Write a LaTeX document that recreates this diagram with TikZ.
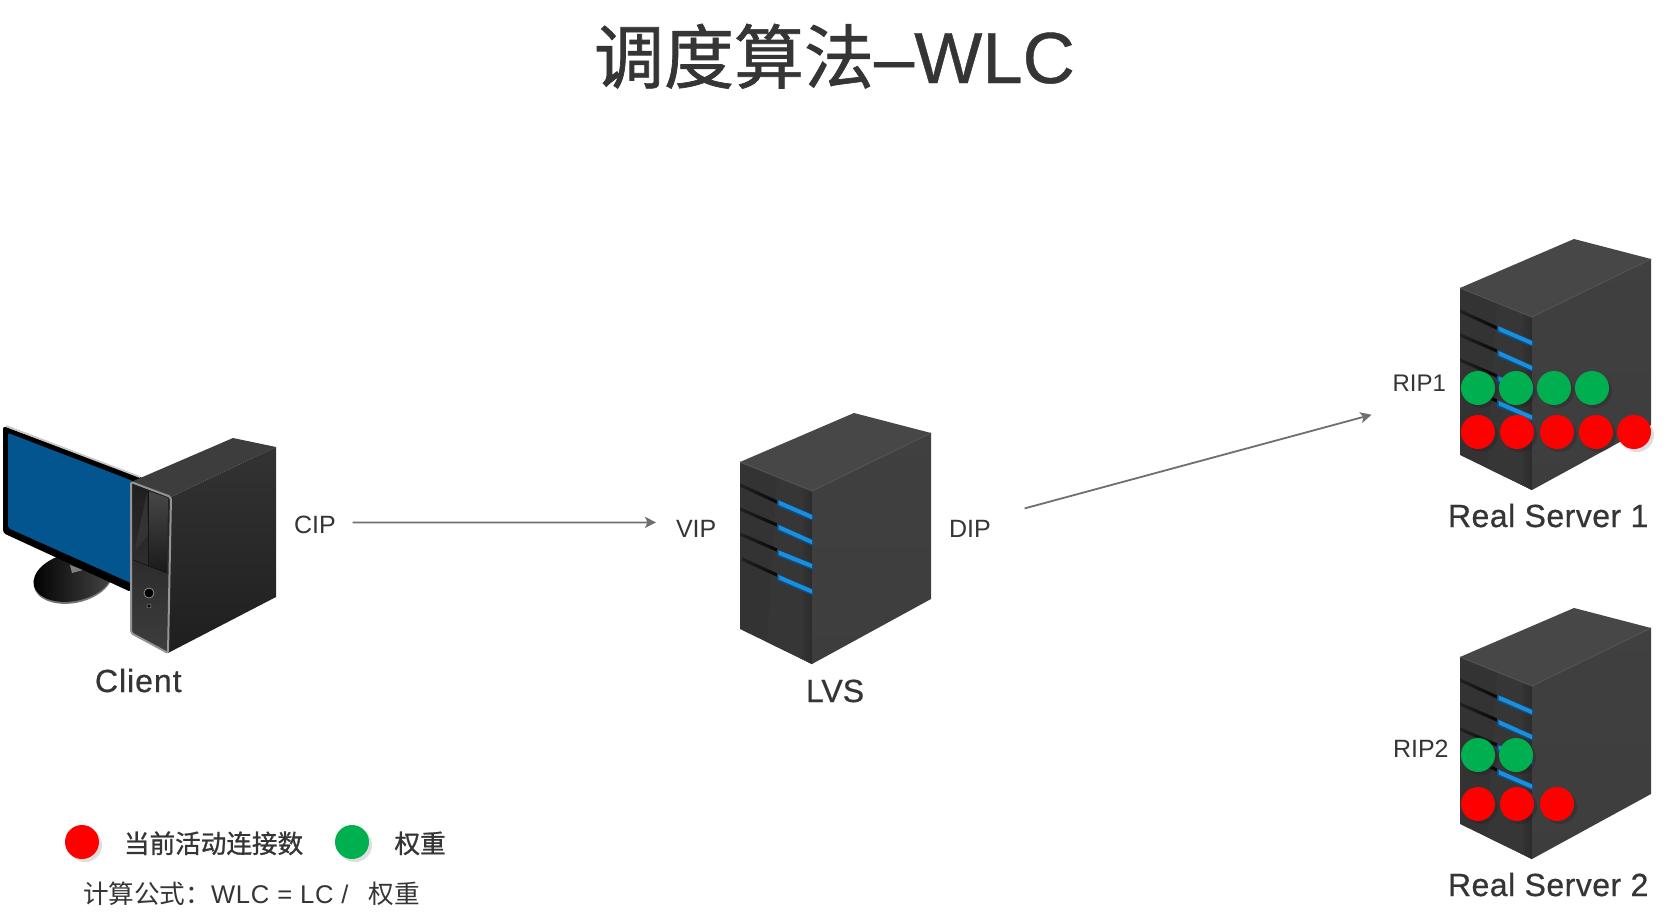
\documentclass[tikz,border=0pt]{standalone}
\usepackage{fontspec}
\setmainfont{Liberation Sans}
\newfontfamily\cjk{Noto Sans CJK SC}
\newfontfamily\cjkm[FakeBold=1]{Noto Sans CJK SC}
\newfontfamily\latm[FakeBold=0.6]{Liberation Sans}
\newfontfamily\latb[LetterSpace=1.5,FakeBold=0.6]{Liberation Sans}
\newfontfamily\latw[LetterSpace=3,FakeBold=0.6]{Liberation Sans}
\newfontfamily\latl[LetterSpace=3]{Liberation Sans}
\usetikzlibrary{arrows.meta}
\definecolor{ink}{HTML}{353535}
\definecolor{flowgrey}{HTML}{6F6F6F}
\definecolor{dotred}{HTML}{FF0000}
\definecolor{dotgreen}{HTML}{00B050}
\definecolor{slotblue}{HTML}{1C8FDB}
\definecolor{slotedge}{HTML}{0B4F8A}
\definecolor{screenblue}{HTML}{03558F}
\newcommand{\fs}[1]{\fontsize{#1}{#1}\selectfont}
\tikzset{
  x=1pt,y=-1pt,
  lab/.style={inner sep=0pt,outer sep=0pt,anchor=base west,text=ink},
  smalllab/.style={lab,font=\fs{25}},
  biglab/.style={lab,font=\fs{32}\latb},
  flow/.style={draw=flowgrey,line width=1.8pt,-{Stealth[length=11pt,width=11pt,inset=2.5pt]}},
  reddot/.pic={\fill[black,opacity=.13] (3,3) circle[radius=17];\fill[dotred] (0,0) circle[radius=17];},
  greendot/.pic={\fill[black,opacity=.13] (3,3) circle[radius=17];\fill[dotgreen] (0,0) circle[radius=17];},
  serverbox/.pic={
    % faces
    \fill[black!80] (0,49) -- (72,78) -- (72,251) -- (0,216) -- cycle;
    \fill[black!79] (37,64) -- (72,78) -- (72,251) -- (27,229) -- cycle;
    \shade[left color=black!79,right color=black!83] (60,74) -- (72,78) -- (72,251) -- (60,245) -- cycle;
    \shade[top color=black!75,bottom color=black!76] (72,78) -- (191,20) -- (191,186) -- (72,251) -- cycle;
    \fill[black!72] (0,49) -- (114,0) -- (191,20) -- (72,78) -- cycle;
    \draw[black!68,line width=1pt,line join=round] (0,49) -- (72,78) -- (191,20);
    % slots
    \foreach \xa/\ya/\yb/\yc/\yd in {0/72/89/89.5/104.5,0/96/112/114/129.5,0/121/137/139.5/153.5,2/146/162/164/179}{
      \shade[left color=black!87,right color=black!97] (\xa,\ya-1.7) -- (37,\yb-1.7) -- (37,\yb+1.7) -- (\xa,\ya+1.7) -- cycle;
      \fill[slotedge] (37,\yc-3) -- (73,\yd-3) -- (73,\yd+3.5) -- (37,\yc+3.5) -- cycle;
      \fill[slotblue] (38.5,\yc-2.2) -- (72,\yd-2.5) -- (72,\yd+1.7) -- (38.5,\yc+2.3) -- cycle;
    }
  },
}
\begin{document}
\begin{tikzpicture}
\useasboundingbox (0,0) rectangle (1666,921);
\fill[white] (0,0) rectangle (1666,921);

% title
\node[lab,font=\fs{70}] (title) at (594,83) {\cjkm 调度算法\fs{72.3}\latm –WLC};

% client: stand
\fill[black!55,rotate around={12:(73,578.5)}] (73,578.5) ellipse[x radius=40,y radius=24.5];
\shade[left color=black,right color=black!72,rotate around={12:(73,577)}] (73,577) ellipse[x radius=40,y radius=24];
\fill[black!50] (70,565) -- (83,570) -- (72,573) -- cycle;
% client: monitor
\fill[black,rounded corners=3pt] (3,426) -- (145,479) -- (131,592) -- (3,533) -- cycle;
\draw[black!22,line width=1.8pt] (6,426) -- (140,477);
\fill[screenblue,rounded corners=2pt] (8,433) -- (133,481) -- (133,584) -- (8,528) -- cycle;
% client: tower
\fill[black!76] (138,479) -- (233,438) -- (276,447) -- (171,497) -- (131,482) -- cycle;
\shade[top color=black!80,middle color=black!70,bottom color=black!88] (171,497) -- (276,447) -- (276,597) -- (168,653) -- cycle;
\shade[top color=black!88,bottom color=black!76] (131,482) -- (171,497) -- (168,653) -- (131,633) -- cycle;
\shade[top color=black!72,bottom color=black!90] (148,491) -- (168,498) -- (167,573) -- (148,566) -- cycle;
\fill[black!80] (134,552) -- (147,493) -- (148,535) -- cycle;
\draw[black!92,line width=.7pt] (148,491) -- (148,566);
\draw[black!92,line width=.7pt] (133,560) -- (167,573);
\draw[black!42,line width=2pt,line join=round,rounded corners=2pt] (131,482) -- (171,497) -- (168,653) -- (131,633) -- cycle;
\fill[black,draw=black!45,line width=.8pt] (149,593) circle[radius=5];
\fill[black,draw=black!45,line width=.5pt] (149,606) circle[radius=2];

% servers
\pic at (740,413) {serverbox};
\pic at (1460,239) {serverbox};
\pic at (1460,608) {serverbox};

% weight and connection dots
\foreach \x in {1478,1516,1554,1592} \pic at (\x,388) {greendot};
\foreach \x in {1478,1517,1557,1596,1634} \pic at (\x,432) {reddot};
\foreach \x in {1478,1516} \pic at (\x,755) {greendot};
\foreach \x in {1478,1517,1557} \pic at (\x,804) {reddot};
\pic at (82,842) {reddot};
\pic at (352,842) {greendot};

% labels
\node[smalllab] (cip) at (294,533) {CIP};
\node[smalllab] (vip) at (676,537) {VIP};
\node[smalllab] (dip) at (949,537) {DIP};
\node[smalllab,font=\fs{24}] (rip1) at (1392.5,391) {RIP1};
\node[smalllab] (rip2) at (1393,757) {RIP2};
\node[biglab,font=\fs{32}\latw] (client) at (95,692) {Client};
\node[biglab,font=\fs{32}\latm] (lvs) at (806,702) {LVS};
\node[biglab] (rs1) at (1448,527) {Real Server 1};
\node[biglab] (rs2) at (1448,896) {Real Server 2};

% legend
\node[lab,font=\fs{25.6}\cjkm] (legred) at (124,853) {当前活动连接数};
\node[lab,font=\fs{25.6}\cjkm] (leggreen) at (394.5,853) {权重};
\node[lab,font=\fs{25.6}] (formula) at (83,903) {{\cjk 计算公式：}{\latl WLC = LC / }\hspace{12pt}{\cjk 权重}};

% connectors
\draw[flow] ([shift={(17,-2)}]cip.east) -- ([shift={(-20,-6)}]vip.west);
\draw[flow] ([shift={(34,-20)}]dip.east) -- ([shift={(-21,32)}]rip1.west);
\end{tikzpicture}
\end{document}
